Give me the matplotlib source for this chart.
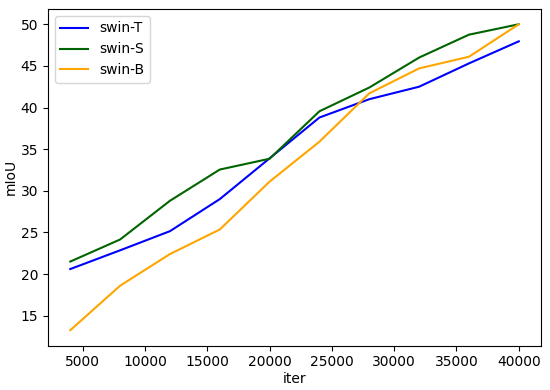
import matplotlib.pyplot as plt

iters = [4000, 8000, 12000, 16000, 20000, 24000, 28000, 32000, 36000, 40000]
swin_t = [20.6, 22.85, 25.15, 29.0, 33.9, 38.8, 41.0, 42.5, 45.3, 47.95]
swin_s = [21.5, 24.15, 28.8, 32.55, 33.85, 39.55, 42.4, 46.0, 48.75, 50.0]
swin_b = [13.25, 18.6, 22.4, 25.35, 31.1, 35.9, 41.7, 44.7, 46.1, 50.0]

fig = plt.figure(figsize=(5.5, 3.9), dpi=100)
ax = fig.add_axes([0.087, 0.114, 0.897, 0.863])

ax.plot(iters, swin_t, color='blue', label='swin-T')
ax.plot(iters, swin_s, color='darkgreen', label='swin-S')
ax.plot(iters, swin_b, color='orange', label='swin-B')

ax.set_xlabel('iter', labelpad=2)
ax.set_ylabel('mIoU', labelpad=2)
ax.set_xticks([5000, 10000, 15000, 20000, 25000, 30000, 35000, 40000])
ax.set_yticks([15, 20, 25, 30, 35, 40, 45, 50])
ax.legend(loc='upper left')

plt.savefig('out.png', dpi=100)
